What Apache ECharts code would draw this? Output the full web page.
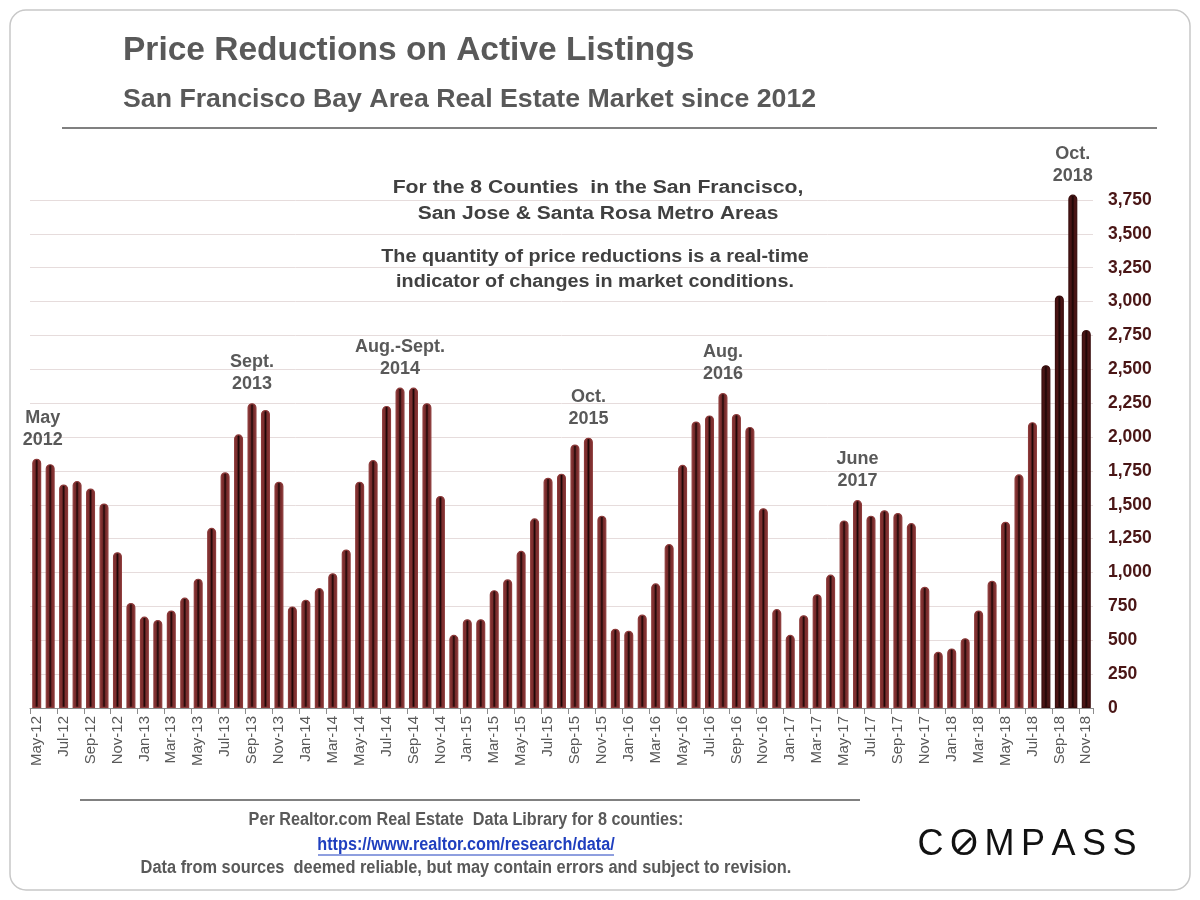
<!DOCTYPE html>
<html>
<head>
<meta charset="utf-8">
<script src="https://cdn.jsdelivr.net/npm/echarts@6/dist/echarts.min.js"></script>
<style>
html,body{margin:0;padding:0;background:#fff;}
#c{width:1200px;height:900px;}
</style>
</head>
<body>
<div id="c"></div>
<script>
const categories = ['May-12','Jun-12','Jul-12','Aug-12','Sep-12','Oct-12','Nov-12','Dec-12',
'Jan-13','Feb-13','Mar-13','Apr-13','May-13','Jun-13','Jul-13','Aug-13','Sep-13','Oct-13','Nov-13','Dec-13',
'Jan-14','Feb-14','Mar-14','Apr-14','May-14','Jun-14','Jul-14','Aug-14','Sep-14','Oct-14','Nov-14','Dec-14',
'Jan-15','Feb-15','Mar-15','Apr-15','May-15','Jun-15','Jul-15','Aug-15','Sep-15','Oct-15','Nov-15','Dec-15',
'Jan-16','Feb-16','Mar-16','Apr-16','May-16','Jun-16','Jul-16','Aug-16','Sep-16','Oct-16','Nov-16','Dec-16',
'Jan-17','Feb-17','Mar-17','Apr-17','May-17','Jun-17','Jul-17','Aug-17','Sep-17','Oct-17','Nov-17','Dec-17',
'Jan-18','Feb-18','Mar-18','Apr-18','May-18','Jun-18','Jul-18','Aug-18','Sep-18','Oct-18','Nov-18'];

const reductions = [1840,1800,1650,1675,1620,1510,1150,775,
 675,650,720,815,955,1330,1740,2020,2250,2200,1670,750,
 800,885,995,1170,1670,1830,2230,2365,2365,2250,1565,540,
 655,655,870,950,1160,1400,1700,1730,1945,1995,1420,585,
 570,690,920,1210,1795,2115,2160,2325,2170,2075,1475,730,
 540,685,840,985,1385,1535,1420,1460,1440,1365,895,415,
 440,515,720,940,1375,1725,2110,2530,3045,3790,2790];

const yTicks = {min: 0, max: 3750, interval: 250};

const peakLabels = [
  {month: 'May-12', text: 'May\n2012'},
  {month: 'Sep-13', text: 'Sept.\n2013'},
  {month: 'Aug-14', text: 'Aug.-Sept.\n2014'},
  {month: 'Oct-15', text: 'Oct.\n2015'},
  {month: 'Aug-16', text: 'Aug.\n2016'},
  {month: 'Jun-17', text: 'June\n2017'},
  {month: 'Oct-18', text: 'Oct.\n2018'}
];

const darkFrom = 'Aug-18';
const darkIdx = categories.indexOf(darkFrom);

function grad(edge, mid){
  return new echarts.graphic.LinearGradient(0,0,1,0,[
    {offset:0,color:edge},{offset:0.3,color:edge},{offset:0.5,color:mid},{offset:0.7,color:edge},{offset:1,color:edge}
  ]);
}

const FF = 'Liberation Sans, Arial, sans-serif';

const seriesData = reductions.map((v,i)=>{
  const item = {value: v};
  if (i >= darkIdx) {
    item.itemStyle = {color: grad('#4a1515','#1a0505'), borderColor:'#3a0f0f'};
  }
  const pk = peakLabels.find(p=>p.month===categories[i]);
  if (pk) {
    item.label = {show:true, position:'top', distance:8, formatter: pk.text,
      color:'#595959', fontWeight:'bold', fontSize:18, lineHeight:22, fontFamily:FF};
    if (pk.month==='May-12') item.label.offset=[6,0];
  }
  return item;
});

// COMPASS logo letters laid out with spacing
const logo = 'COMPASS';
const logoGraphics = [];
(function(){
  const widths = {C:0.722,O:0.778,M:0.833,P:0.667,A:0.667,S:0.667};
  const fs = 36, gap = 6.5;
  let total = 0;
  for (const ch of logo) total += widths[ch]*fs + gap;
  total -= gap;
  let x = 1027 - total/2;
  for (const ch of logo) {
    const w = widths[ch]*fs;
    logoGraphics.push({type:'text',x:x,y:845,style:{text:ch,font:'36px '+FF,fill:'#111',verticalAlign:'middle'}});
    if (ch==='O') {
      const cx = x + w/2;
      logoGraphics.push({type:'line',shape:{x1:cx-7,y1:852,x2:cx+7,y2:838},style:{stroke:'#111',lineWidth:3}});
    }
    x += w + gap;
  }
})();

const chart = echarts.init(document.getElementById('c'));
chart.setOption({
  backgroundColor:'#fff',
  animation:false,
  textStyle:{fontFamily:FF},
  grid:{left:30,right:107,top:200,bottom:192,containLabel:false},
  xAxis:{
    type:'category',
    data:categories,
    axisLine:{lineStyle:{color:'#8c8c8c',width:1}},
    axisTick:{show:true,interval:1,length:6,lineStyle:{color:'#8c8c8c'}},
    axisLabel:{interval:1,rotate:90,color:'#595959',fontSize:15,margin:8,fontFamily:FF}
  },
  yAxis:{
    type:'value',
    position:'right',
    min:yTicks.min,max:yTicks.max,interval:yTicks.interval,
    axisLine:{show:false},axisTick:{show:false},
    splitLine:{lineStyle:{color:'#e6dcdc',width:1}},
    axisLabel:{color:'#4a1616',fontWeight:'bold',fontSize:17.5,margin:15,fontFamily:FF,
      formatter:v=>v.toLocaleString('en-US')}
  },
  series:[{
    type:'bar',
    data:seriesData,
    barWidth:9,
    clip:false,
    itemStyle:{color:grad('#7e2f2f','#1c0606'),borderColor:'#8c3a3a',borderWidth:1.2,borderRadius:[4,4,0,0]}
  }],
  graphic:[
    {type:'rect',shape:{x:10,y:10,width:1180,height:880,r:16},style:{fill:'none',stroke:'#c8c8c8',lineWidth:1.5},silent:true},
    {type:'text',x:123,y:51,scaleX:1.015,style:{text:'Price Reductions on Active Listings',font:'bold 33px '+FF,fill:'#595959',verticalAlign:'middle'}},
    {type:'text',x:123,y:100,scaleX:1.027,style:{text:'San Francisco Bay Area Real Estate Market since 2012',font:'bold 26px '+FF,fill:'#595959',verticalAlign:'middle'}},
    {type:'line',shape:{x1:62,y1:128,x2:1157,y2:128},style:{stroke:'#808080',lineWidth:2}},
    {type:'text',x:598,y:188,scaleX:1.21,style:{text:'For the 8 Counties  in the San Francisco,',font:'bold 17.5px '+FF,fill:'#404040',align:'center',verticalAlign:'middle'}},
    {type:'text',x:598,y:214,scaleX:1.2,style:{text:'San Jose & Santa Rosa Metro Areas',font:'bold 17.5px '+FF,fill:'#404040',align:'center',verticalAlign:'middle'}},
    {type:'text',x:595,y:257,scaleX:1.13,style:{text:'The quantity of price reductions is a real-time',font:'bold 17.5px '+FF,fill:'#404040',align:'center',verticalAlign:'middle'}},
    {type:'text',x:595,y:282,scaleX:1.13,style:{text:'indicator of changes in market conditions.',font:'bold 17.5px '+FF,fill:'#404040',align:'center',verticalAlign:'middle'}},
    {type:'line',shape:{x1:80,y1:800,x2:860,y2:800},style:{stroke:'#808080',lineWidth:2}},
    {type:'text',x:466,y:820,scaleX:0.9,style:{text:'Per Realtor.com Real Estate  Data Library for 8 counties:',font:'bold 18px '+FF,fill:'#595959',align:'center',verticalAlign:'middle'}},
    {type:'text',x:466,y:845,scaleX:0.9,style:{text:'https://www.realtor.com/research/data/',font:'bold 18px '+FF,fill:'#1f3fbf',align:'center',verticalAlign:'middle'}},
    {type:'line',shape:{x1:318,y1:855,x2:614,y2:855},style:{stroke:'#1f3fbf',lineWidth:1}},
    {type:'text',x:466,y:868,scaleX:0.91,style:{text:'Data from sources  deemed reliable, but may contain errors and subject to revision.',font:'bold 18px '+FF,fill:'#595959',align:'center',verticalAlign:'middle'}}
  ].concat(logoGraphics)
});
</script>
</body>
</html>
